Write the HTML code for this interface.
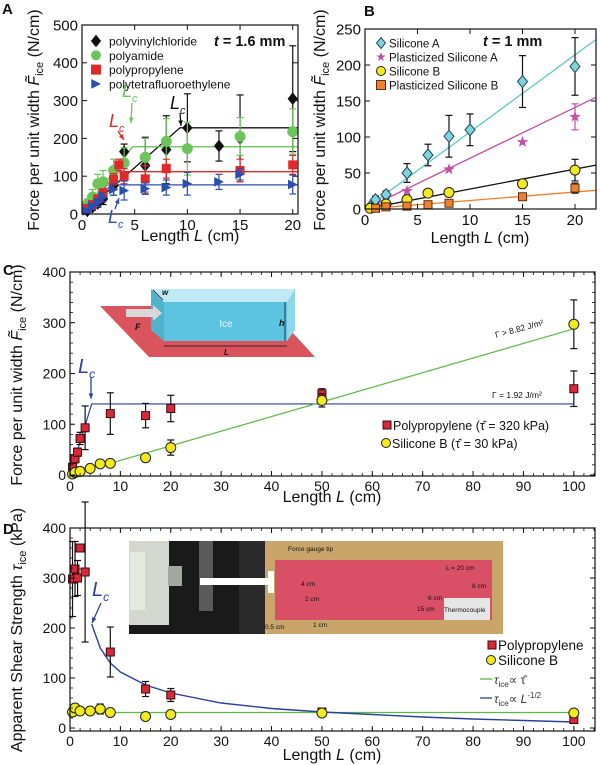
<!DOCTYPE html>
<html><head><meta charset="utf-8">
<style>
html,body{margin:0;padding:0;background:#fff;}
svg{display:block;font-family:"Liberation Sans Narrow","Liberation Sans",sans-serif;}
</style></head>
<body>
<svg id="fig" width="600" height="765" viewBox="0 0 600 765" xmlns="http://www.w3.org/2000/svg"></svg>
<script>
// ---------- DATA ----------
// Panel A
const aPvcL=[0.5,1,1.5,2,3,4,6,8,10,13,15,20];
const aPvcF=[8,18,28,40,75,165,128,170,228,180,200,305];
const aPvcE=[5,8,10,15,25,20,75,90,90,40,115,140];
const aPaL=[0.5,1,1.5,2,3,4,6,8,10,15,20];
const aPaF=[25,45,80,85,115,135,150,192,173,205,218];
const aPaE=[15,20,25,30,30,40,50,60,70,50,60];
const aPpL=[0.5,1,1.5,2,3,3.5,4,6,8,15,20];
const aPpF=[15,25,40,55,92,130,100,93,120,115,130];
const aPpE=[5,8,10,12,15,15,20,35,25,30,25];
const aPtL=[0.5,1,1.5,2,3,4,6,8,10,13,15,20];
const aPtF=[8,20,30,45,65,62,67,70,80,85,105,78];
const aPtE=[5,8,10,12,15,25,15,20,30,20,15,25];
const aFitLc=[9.3,4.8,3.5,2.8];
const aFitF=[228,178,112,77];
const aXTicks=[0,5,10,15,20];
const aYTicks=[0,100,200,300,400,500];
// Panel B
const bSaL=[0.5,1,2,4,6,8,10,15,20];
const bSaF=[3,13,20,50,75,101,110,177,198];
const bSaE=[3,5,5,13,15,29,22,36,40];
const bPaL=[4,8,15,20];
const bPaF=[25,55,93,128];
const bPaE=[0,0,0,18];
const bSbL=[0.5,2,4,6,8,15,20];
const bSbF=[1,7,13,22,23,35,54];
const bSbE=[0,2,3,4,4,5,15];
const bPbL=[1,2,4,6,8,15,20];
const bPbF=[1,3,4,6,8,17,29];
const bPbE=[0,0,0,0,0,2,7];
const bSlopes=[10.7,7.05,2.77,1.18];
const bXTicks=[0,5,10,15,20];
const bYTicks=[0,50,100,150,200,250];
// Panel C
const cPpL=[0.5,1,1.5,2,3,8,15,20,50,100];
const cPpF=[15,32,45,72,93,121,117,131,160,170];
const cPpE=[5,8,8,12,43,41,24,26,10,35];
const cSbL=[0.5,1,2,4,6,8,15,20,50,100];
const cSbF=[2,5,7,13,22,23,34,54,147,297];
const cSbE=[0,0,0,4,3,3,5,15,13,48];
const cBlueLc=[4.3];
const cBlueF=[140];
const cGreenL=[8,100];
const cGreenF=[23,288];
const cdXTicks=[0,10,20,30,40,50,60,70,80,90,100];
const cYTicks=[0,100,200,300,400];
// Panel D
const dPpL=[0.5,1,1.5,2,3,8,15,20,50,100];
const dPpT=[298,318,300,360,312,152,78,66,32,17];
const dPpE=[75,55,35,0,140,50,15,13,4,0];
const dSbL=[0.5,1,2,4,6,8,15,20,50,100];
const dSbT=[32,40,34,34,38,31,23,27,30,30];
const dSbE=[8,8,5,5,10,4,3,7,5,3];
const dCurveL=[4.3,6,8,10,15,20,30,40,50,60,70,80,90,100];
const dCurveT=[208,160,130,112,86,70,50,39,32,27,22,18,15,12];
const dGreenT=[31];
const dYTicks=[0,100,200,300,400];

// ---------- HELPERS ----------
const NS='http://www.w3.org/2000/svg';
const fig=document.getElementById('fig');
function mk(tag,attrs,parent,name){
  const el=document.createElementNS(NS,tag);
  for(const k in attrs) el.setAttribute(k,attrs[k]);
  
  
  (parent||fig).appendChild(el);
  return el;
}
function txt(x,y,s,size,parent,name,extra){
  const a=Object.assign({x:x,y:y,'font-size':size,fill:'#111'},extra||{});
  const t=mk('text',a,parent,name);
  t.textContent=s;
  return t;
}
function axis(px0,px1,py0,py1,xmin,xmax,ymin,ymax){
  return {sx:v=>px0+(v-xmin)/(xmax-xmin)*(px1-px0), sy:v=>py0-(v-ymin)/(ymax-ymin)*(py0-py1), px0,px1,py0,py1};
}
function frame(ax,g,xt,yt,xminor,yminor,xmin,xmax,ymin,ymax,fs,name){
  mk('rect',{x:ax.px0,y:ax.py1,width:ax.px1-ax.px0,height:ax.py0-ax.py1,fill:'none',stroke:'#111','stroke-width':1.2},g,name+'-frame');
  xt.forEach(v=>{const x=ax.sx(v);
    mk('line',{x1:x,x2:x,y1:ax.py0,y2:ax.py0-5,stroke:'#111'},g,'x-tick');
    mk('line',{x1:x,x2:x,y1:ax.py1,y2:ax.py1+5,stroke:'#111'},g,'x-tick-top');
    txt(x,ax.py0+fs+1,String(v),fs,g,'x-tick-label',{'text-anchor':'middle'});});
  yt.forEach(v=>{const y=ax.sy(v);
    mk('line',{x1:ax.px0,x2:ax.px0+5,y1:y,y2:y,stroke:'#111'},g,'y-tick');
    mk('line',{x1:ax.px1,x2:ax.px1-5,y1:y,y2:y,stroke:'#111'},g,'y-tick-right');
    txt(ax.px0-4,y+fs*0.36,String(v),fs,g,'y-tick-label',{'text-anchor':'end'});});
  if(xminor){for(let v=xmin;v<=xmax;v+=xminor){const x=ax.sx(v);
    mk('line',{x1:x,x2:x,y1:ax.py0,y2:ax.py0-3,stroke:'#111','stroke-width':0.8},g,'x-minor-tick');
    mk('line',{x1:x,x2:x,y1:ax.py1,y2:ax.py1+3,stroke:'#111','stroke-width':0.8},g,'x-minor-tick-top');}}
  if(yminor){for(let v=Math.ceil(ymin/yminor)*yminor;v<=ymax;v+=yminor){const y=ax.sy(v);
    mk('line',{x1:ax.px0,x2:ax.px0+3,y1:y,y2:y,stroke:'#111','stroke-width':0.8},g,'y-minor-tick');
    mk('line',{x1:ax.px1,x2:ax.px1-3,y1:y,y2:y,stroke:'#111','stroke-width':0.8},g,'y-minor-tick-right');}}
}
function marker(shape,cx,cy,s,fill,stroke,g,name){
  let el;
  if(shape==='circle') el=mk('circle',{cx:cx,cy:cy,r:s/2,fill:fill,stroke:stroke,'stroke-width':1},g,name);
  else if(shape==='square') el=mk('rect',{x:cx-s/2,y:cy-s/2,width:s,height:s,fill:fill,stroke:stroke,'stroke-width':1},g,name);
  else if(shape==='diamond') el=mk('polygon',{points:`${cx},${cy-s/2-1} ${cx+s/2},${cy} ${cx},${cy+s/2+1} ${cx-s/2},${cy}`,fill:fill,stroke:stroke,'stroke-width':1},g,name);
  else if(shape==='tri') el=mk('polygon',{points:`${cx-s/2},${cy-s/2} ${cx+s/2},${cy} ${cx-s/2},${cy+s/2}`,fill:fill,stroke:stroke,'stroke-width':0.5},g,name);
  else if(shape==='star'){let p=[];for(let i=0;i<10;i++){const r=i%2?s*0.22:s*0.55;const a=-Math.PI/2+i*Math.PI/5;p.push((cx+r*Math.cos(a)).toFixed(1)+','+(cy+r*Math.sin(a)).toFixed(1));}
    el=mk('polygon',{points:p.join(' '),fill:fill,stroke:'none'},g,name);}
  return el;
}
function series(ax,L,V,E,shape,s,fill,stroke,ecol,g,name){
  L.forEach((l,i)=>{const x=ax.sx(l),y=ax.sy(V[i]);
    if(E[i]>0){const y1=ax.sy(V[i]+E[i]),y2=ax.sy(V[i]-E[i]);
      mk('line',{x1:x,x2:x,y1:y1,y2:y2,stroke:ecol,'stroke-width':1.2},g,name+'-errorbar');
      mk('line',{x1:x-3.5,x2:x+3.5,y1:y1,y2:y1,stroke:ecol,'stroke-width':1.2},g,name+'-errorcap');
      mk('line',{x1:x-3.5,x2:x+3.5,y1:y2,y2:y2,stroke:ecol,'stroke-width':1.2},g,name+'-errorcap');}
    marker(shape,x,y,s,fill,stroke,g,name+'-point');});
}
function ytitle(x,y,g,name,parts,fs){
  const t=mk('text',{x:0,y:0,'font-size':fs,fill:'#111','text-anchor':'middle',transform:`translate(${x},${y}) rotate(-90)`},g,name);
  parts.forEach(p=>{const sp=document.createElementNS(NS,'tspan');sp.textContent=p[0];for(const k in (p[1]||{}))sp.setAttribute(k,p[1][k]);t.appendChild(sp);});
  return t;
}
function arrow(x1,y1,x2,y2,col,g,name){
  mk('line',{x1:x1,y1:y1,x2:x2,y2:y2,stroke:col,'stroke-width':1.3},g,name);
  const a=Math.atan2(y2-y1,x2-x1),h=6;
  mk('polygon',{points:`${x2},${y2} ${x2-h*Math.cos(a-0.4)},${y2-h*Math.sin(a-0.4)} ${x2-h*Math.cos(a+0.4)},${y2-h*Math.sin(a+0.4)}`,fill:col},g,name+'-head');
}
function lc(x,y,col,g,name,fs){
  const t=mk('text',{x:x,y:y,'font-size':fs,fill:col,'font-style':'italic'},g,name);
  t.textContent='L';
  const sp=document.createElementNS(NS,'tspan');sp.setAttribute('dy',5);sp.setAttribute('font-size',fs*0.6);sp.textContent='c';t.appendChild(sp);
}

// ---------- PANEL A ----------
const gA=mk('g',{},fig,'panel-a');
const A=axis(82,298,214,25,0,20.5,0,500);
txt(2,14,'A',15,gA,'panel-label-a',{'font-weight':'bold','font-family':'Liberation Sans'});
const aCols=['#111','#5cbf4a','#e02a2a','#2a4fb0'];
aFitLc.forEach((lcv,i)=>{
  mk('polyline',{points:`${A.sx(0)},${A.sy(0)} ${A.sx(lcv)},${A.sy(aFitF[i])} ${A.sx(20.5)},${A.sy(aFitF[i])}`,fill:'none',stroke:aCols[i],'stroke-width':1.3},gA,'fit-line-a');});
series(A,aPvcL,aPvcF,aPvcE,'diamond',9,'#111','#111','#111',gA,'pvc');
series(A,aPaL,aPaF,aPaE,'circle',10,'#6cc45a','#6cc45a','#6cc45a',gA,'polyamide');
series(A,aPpL,aPpF,aPpE,'square',8,'#e02a2a','#e02a2a','#e02a2a',gA,'polypropylene');
series(A,aPtL,aPtF,aPtE,'tri',9,'#2a4fb0','#2a4fb0','#2a4fb0',gA,'ptfe');
frame(A,gA,aXTicks,aYTicks,null,null,0,20,0,500,15,'a');
const aLeg=[['diamond','#111','polyvinylchloride'],['circle','#6cc45a','polyamide'],['square','#e02a2a','polypropylene'],['tri','#2a4fb0','polytetrafluoroethylene']];
aLeg.forEach((d,i)=>{const y=41+i*14.3;marker(d[0],96,y,9,d[1],d[1],gA,'legend-marker-a');txt(109,y+4.5,d[2],12,gA,'legend-entry-a',{'font-family':'Liberation Sans'});});
const tA=txt(214,46,'',14.5,gA,'thickness-label-a',{'font-weight':'bold','font-family':'Liberation Sans'});
tA.innerHTML='<tspan font-style="italic">t</tspan> = 1.6 mm';
lc(170,109,'#111',gA,'lc-label-pvc',18);arrow(180,113,181,126,'#111',gA,'lc-arrow-pvc');
lc(122,97,'#6cc45a',gA,'lc-label-pa',18);arrow(132,103,131,123,'#6cc45a',gA,'lc-arrow-pa');
lc(109,127,'#e02a2a',gA,'lc-label-pp',18);arrow(118,131,124,140,'#e02a2a',gA,'lc-arrow-pp');
lc(108,223,'#2a4fb0',gA,'lc-label-ptfe',18);arrow(115,209,119,198,'#2a4fb0',gA,'lc-arrow-ptfe');
ytitle(39,120,gA,'y-axis-title-a',[['Force per unit width  '],['F̃',{'font-style':'italic'}],['ice',{'font-size':11,dy:4}],[' (N/cm)',{dy:-4}]],16);
txt(190,241,'',16,gA,'x-axis-title-a',{'text-anchor':'middle'}).innerHTML='Length <tspan font-style="italic">L</tspan> (cm)';

// ---------- PANEL B ----------
const gB=mk('g',{},fig,'panel-b');
const B=axis(365,596,209,29,0,22,0,250);
txt(364,16,'B',15,gB,'panel-label-b',{'font-weight':'bold','font-family':'Liberation Sans'});
const bCols=['#5bc8cf','#c04fa8','#111','#ef7f2a'];
bSlopes.forEach((s,i)=>{mk('line',{x1:B.sx(0),y1:B.sy(0),x2:B.sx(22),y2:B.sy(s*22),stroke:bCols[i],'stroke-width':1.3},gB,'fit-line-b');});
series(B,bSaL,bSaF,bSaE,'diamond',10,'#7fd3dc','#1b4b5a','#111',gB,'silicone-a');
series(B,bPaL,bPaF,bPaE,'star',11,'#c04fa8','none','#c04fa8',gB,'plasticized-silicone-a');
series(B,bSbL,bSbF,bSbE,'circle',10,'#f3ea1d','#222','#111',gB,'silicone-b');
series(B,bPbL,bPbF,bPbE,'square',8,'#ef8030','#5a3010','#111',gB,'plasticized-silicone-b');
frame(B,gB,bXTicks,bYTicks,null,null,0,20,0,250,15,'b');
const bLeg=[['diamond','#7fd3dc','#1b4b5a','Silicone A'],['star','#c04fa8','none','Plasticized Silicone A'],['circle','#f3ea1d','#222','Silicone B'],['square','#ef8030','#5a3010','Plasticized Silicone B']];
bLeg.forEach((d,i)=>{const y=43+i*14;marker(d[0],381,y,9,d[1],d[2],gB,'legend-marker-b');txt(389,y+4.5,d[3],11.5,gB,'legend-entry-b',{'font-family':'Liberation Sans'});});
txt(483,46,'',14.5,gB,'thickness-label-b',{'font-weight':'bold','font-family':'Liberation Sans'}).innerHTML='<tspan font-style="italic">t</tspan> = 1 mm';
ytitle(325,120,gB,'y-axis-title-b',[['Force per unit width  '],['F̃',{'font-style':'italic'}],['ice',{'font-size':11,dy:4}],[' (N/cm)',{dy:-4}]],16);
txt(480,243,'',16,gB,'x-axis-title-b',{'text-anchor':'middle'}).innerHTML='Length <tspan font-style="italic">L</tspan> (cm)';

// ---------- PANEL C ----------
const gC=mk('g',{},fig,'panel-c');
const C=axis(70,595,476,272,0,104.2,-2,400);
txt(3,275,'C',15,gC,'panel-label-c',{'font-weight':'bold','font-family':'Liberation Sans'});
mk('polygon',{points:'100,306 268,306 315,357 149,357',fill:'#d9545c'},gC,'substrate-plate');
mk('polygon',{points:'151,289 295,289 287,302 164,302',fill:'#bfeaf5'},gC,'ice-top-face');
mk('polygon',{points:'151,289 164,302 164,341 151,330',fill:'#4fb3cc'},gC,'ice-left-face');
mk('rect',{x:164,y:302,width:123,height:39,fill:'#5cc4e0'},gC,'ice-front-face');
mk('polygon',{points:'287,302 295,289 295,330 287,341',fill:'#8fd6ea'},gC,'ice-right-face');
mk('polygon',{points:'126,309 153,309 153,305 162,313 153,321 153,317 126,317',fill:'#d8d8d8'},gC,'force-arrow');
txt(226,327,'Ice',10,gC,'ice-label',{fill:'#e8f8ff','text-anchor':'middle'});
txt(135,330,'F',9,gC,'force-label',{'font-style':'italic','font-weight':'bold'});
txt(279,326,'h',9,gC,'height-label',{'font-style':'italic','font-weight':'bold'});
mk('line',{x1:285,y1:302,x2:285,y2:341,stroke:'#111','stroke-width':0.8},gC,'height-line');
mk('line',{x1:164,y1:346,x2:287,y2:346,stroke:'#111','stroke-width':0.8},gC,'length-line');
txt(224,355,'L',8,gC,'length-label',{'font-style':'italic','font-weight':'bold'});
mk('line',{x1:153,y1:290,x2:163,y2:300,stroke:'#111','stroke-width':0.8},gC,'width-line');
txt(162,295,'w',8,gC,'width-label',{'font-style':'italic','font-weight':'bold'});
mk('polyline',{points:`${C.sx(0)},${C.sy(0)} ${C.sx(cBlueLc[0])},${C.sy(cBlueF[0])} ${C.sx(100)},${C.sy(cBlueF[0])}`,fill:'none',stroke:'#2a3f9e','stroke-width':1.2},gC,'fit-line-blue-c');
mk('line',{x1:C.sx(cGreenL[0]),y1:C.sy(cGreenF[0]),x2:C.sx(cGreenL[1]),y2:C.sy(cGreenF[1]),stroke:'#5cb843','stroke-width':1.2},gC,'fit-line-green-c');
series(C,cPpL,cPpF,cPpE,'square',8,'#d8283a','#3a0a10','#111',gC,'polypropylene-c');
series(C,cSbL,cSbF,cSbE,'circle',10,'#f3ea1d','#222','#111',gC,'silicone-b-c');
frame(C,gC,cdXTicks,cYTicks,2,20,0,104,-2,400,14,'c');
lc(78,373,'#2a3f9e',gC,'lc-label-c',20);arrow(91,377,91,399,'#2a3f9e',gC,'lc-arrow-c');
txt(492,398,'Γ = 1.92 J/m²',8.5,gC,'gamma-label-pp');
txt(0,0,'Γ > 8.82 J/m²',8.5,gC,'gamma-label-silicone',{transform:'translate(496,338) rotate(-15)'});
marker('square',387,425,8,'#d8283a','#3a0a10',gC,'legend-marker-c-pp');
txt(393,430,'Polypropylene (τ̂ = 320 kPa)',12.5,gC,'legend-entry-c-pp');
marker('circle',386,443,9,'#f3ea1d','#222',gC,'legend-marker-c-sb');
txt(392,448,'Silicone B (τ̂ = 30 kPa)',12.5,gC,'legend-entry-c-sb');
ytitle(22,375,gC,'y-axis-title-c',[['Force per unit width  '],['F̃',{'font-style':'italic'}],['ice',{'font-size':11,dy:4}],[' (N/cm)',{dy:-4}]],16);
txt(332,502,'',16,gC,'x-axis-title-c',{'text-anchor':'middle'}).innerHTML='Length  <tspan font-style="italic">L</tspan> (cm)';

// ---------- PANEL D ----------
const gD=mk('g',{},fig,'panel-d');
const D=axis(70,595,731,528,0,104.2,-6,400);
txt(3,534,'D',15,gD,'panel-label-d',{'font-weight':'bold','font-family':'Liberation Sans'});
const ph=mk('g',{},gD,'experiment-photo');
mk('rect',{x:129,y:541,width:374,height:93,fill:'#c9a56a'},ph,'photo-background');
mk('rect',{x:129,y:541,width:136,height:93,fill:'#1a1a1a'},ph,'photo-dark-area');
mk('rect',{x:129,y:541,width:40,height:84,fill:'#d4d6d0'},ph,'force-gauge-body');
mk('rect',{x:130,y:552,width:15,height:58,fill:'#e6e9e2'},ph,'force-gauge-screen');
mk('rect',{x:168,y:566,width:14,height:20,fill:'#a4a6a0'},ph,'force-gauge-neck');
mk('rect',{x:199,y:541,width:14,height:70,fill:'#5a5a5a'},ph,'clamp');
mk('rect',{x:239,y:541,width:26,height:93,fill:'#2a2a2a'},ph,'photo-wires');
mk('rect',{x:275,y:560,width:217,height:60,fill:'#d94f66'},ph,'pink-plate');
mk('rect',{x:200,y:578,width:72,height:7,fill:'#ffffff'},ph,'gauge-tip-bar');
mk('rect',{x:268,y:571,width:6,height:22,fill:'#ffffff'},ph,'gauge-tip-end');
mk('rect',{x:444,y:598,width:46,height:22,fill:'#e6e6e6'},ph,'thermocouple-box');
[[288,551,'Force gauge tip'],[446,570,'L = 20 cm'],[301,586,'4 cm'],[472,588,'8 cm'],[305,601,'2 cm'],[428,600,'6 cm'],[417,611,'15 cm'],[444,612,'Thermocouple'],[313,627,'1 cm'],[265,629,'0.5 cm']].forEach(d=>{txt(d[0],d[1],d[2],6.5,ph,'photo-label');});
mk('line',{x1:D.sx(0),y1:D.sy(dGreenT[0]),x2:D.sx(100),y2:D.sy(dGreenT[0]),stroke:'#5cb843','stroke-width':1.2},gD,'fit-line-green-d');
mk('line',{x1:D.sx(0),y1:D.sy(318),x2:D.sx(4),y2:D.sy(318),stroke:'#5cb843','stroke-width':1.5},gD,'fit-line-green-short-d');
mk('polyline',{points:dCurveL.map((l,i)=>D.sx(l)+','+D.sy(dCurveT[i])).join(' '),fill:'none',stroke:'#2a3f9e','stroke-width':1.4},gD,'fit-curve-blue-d');
series(D,dPpL,dPpT,dPpE,'square',8,'#d8283a','#3a0a10','#111',gD,'polypropylene-d');
series(D,dSbL,dSbT,dSbE,'circle',10,'#f3ea1d','#222','#111',gD,'silicone-b-d');
frame(D,gD,cdXTicks,dYTicks,2,20,0,104,-6,400,14,'d');
lc(92,596,'#2a3f9e',gD,'lc-label-d',20);arrow(101,603,92,623,'#2a3f9e',gD,'lc-arrow-d');
marker('square',492,645,8,'#d8283a','#3a0a10',gD,'legend-marker-d-pp');
txt(498,650,'Polypropylene',13.5,gD,'legend-entry-d-pp');
marker('circle',491,660,9,'#f3ea1d','#222',gD,'legend-marker-d-sb');
txt(498,665,'Silicone B',13.5,gD,'legend-entry-d-sb');
mk('line',{x1:480,y1:679,x2:492,y2:679,stroke:'#5cb843','stroke-width':1.3},gD,'legend-line-green');
txt(494,684,'',12,gD,'legend-entry-green',{fill:'#333'}).innerHTML='<tspan font-style="italic">τ</tspan><tspan font-size="8" dy="3">ice</tspan><tspan dy="-3">∝ τ̂</tspan>';
mk('line',{x1:480,y1:698,x2:492,y2:698,stroke:'#2a3f9e','stroke-width':1.3},gD,'legend-line-blue');
txt(494,703,'',12,gD,'legend-entry-blue',{fill:'#333'}).innerHTML='<tspan font-style="italic">τ</tspan><tspan font-size="8" dy="3">ice</tspan><tspan dy="-3">∝ </tspan><tspan font-style="italic">L</tspan><tspan font-size="8" dy="-5">-1/2</tspan>';
ytitle(22,630,gD,'y-axis-title-d',[['Apparent Shear Strength '],['τ',{'font-style':'italic'}],['ice',{'font-size':11,dy:4}],[' (kPa)',{dy:-4}]],16);
txt(332,760,'',16,gD,'x-axis-title-d',{'text-anchor':'middle'}).innerHTML='Length  <tspan font-style="italic">L</tspan> (cm)';
</script>
</body></html>
